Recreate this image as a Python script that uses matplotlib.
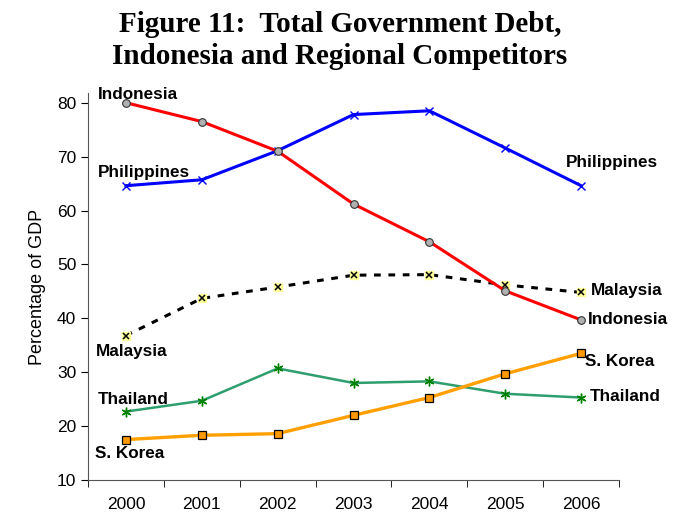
import matplotlib
matplotlib.use("Agg")
import matplotlib.pyplot as plt

plt.rcParams['font.family'] = ['Liberation Sans', 'DejaVu Sans']

years = [2000, 2001, 2002, 2003, 2004, 2005, 2006]
indonesia = [80.0, 76.5, 71.0, 61.2, 54.2, 45.1, 39.7]
philippines = [64.6, 65.7, 71.1, 77.8, 78.5, 71.6, 64.6]
malaysia = [36.8, 43.7, 45.8, 48.0, 48.1, 46.2, 44.8]
thailand = [22.7, 24.7, 30.7, 28.0, 28.3, 26.0, 25.3]
skorea = [17.5, 18.3, 18.6, 22.0, 25.3, 29.7, 33.5]
yticks = [10, 20, 30, 40, 50, 60, 70, 80]

fig = plt.figure(figsize=(6.73, 5.19), dpi=100)
ax = fig.add_axes([88/673, 1 - 480/519, (619-88)/673, (480-93)/519])

x = list(range(len(years)))
ax.plot(x, indonesia, color='#FF0000', lw=2.2, marker='o', ms=5.5,
        mfc='#B0B0B0', mec='#333333', mew=0.8, zorder=4)
ax.plot(x, philippines, color='#0000FF', lw=2.2, marker='x', ms=6,
        mec='#0000FF', mew=1.0, zorder=3)
ax.plot(x, malaysia, color='black', lw=2.2, ls=(0, (2.2, 2.5)), marker='s', ms=5.5,
        mfc='#FFFF99', mec='#FFFF99', zorder=3)
ax.plot(x, malaysia, ls='none', marker='x', ms=5, mec='black', mew=1.1, zorder=3)
ax.plot(x, thailand, color='#2E9E6E', lw=1.8, marker=(6, 2, 0), ms=7,
        mec='#008000', mew=1.0, zorder=3)
ax.plot(x, skorea, color='#FFA000', lw=2.4, marker='s', ms=6,
        mfc='#FF9900', mec='black', mew=0.9, zorder=5)

ax.set_xlim(-0.5, 6.5)
ax.set_ylim(10, 81.8)
ax.set_yticks(yticks)
ax.set_xticks(x)
ax.set_xticklabels([str(y) for y in years])
ax.set_xticks([i - 0.5 for i in range(len(years) + 1)], minor=True)
ax.tick_params(axis='x', which='major', length=0, labelsize=12.5, pad=12)
ax.tick_params(axis='x', which='minor', length=5, direction='out')
ax.tick_params(axis='y', length=5, direction='out', labelsize=12.5)
for s in ['top', 'right']:
    ax.spines[s].set_visible(False)
for s in ['left', 'bottom']:
    ax.spines[s].set_color('#555555')
ax.set_ylabel('Percentage of GDP', fontsize=13, labelpad=8)

fig.text(0.505, 0.978, 'Figure 11:  Total Government Debt,\nIndonesia and Regional Competitors',
         ha='center', va='top', fontsize=21, fontweight='bold', family='Liberation Serif',
         linespacing=1.2)

lab = dict(fontsize=12.3, fontweight='bold', va='center', ha='left', clip_on=False)
ax.text(-0.37, 81.5, 'Indonesia', **lab)
ax.text(-0.37, 67.0, 'Philippines', **lab)
ax.text(-0.40, 33.8, 'Malaysia', **lab)
ax.text(-0.37, 25.0, 'Thailand', **lab)
ax.text(-0.41, 15.0, 'S. Korea', **lab)
ax.text(5.80, 68.9, 'Philippines', **lab)
ax.text(6.13, 45.1, 'Malaysia', **lab)
ax.text(6.09, 39.7, 'Indonesia', **lab)
ax.text(6.05, 31.9, 'S. Korea', **lab)
ax.text(6.11, 25.4, 'Thailand', **lab)

fig.savefig('out.png', dpi=100)
